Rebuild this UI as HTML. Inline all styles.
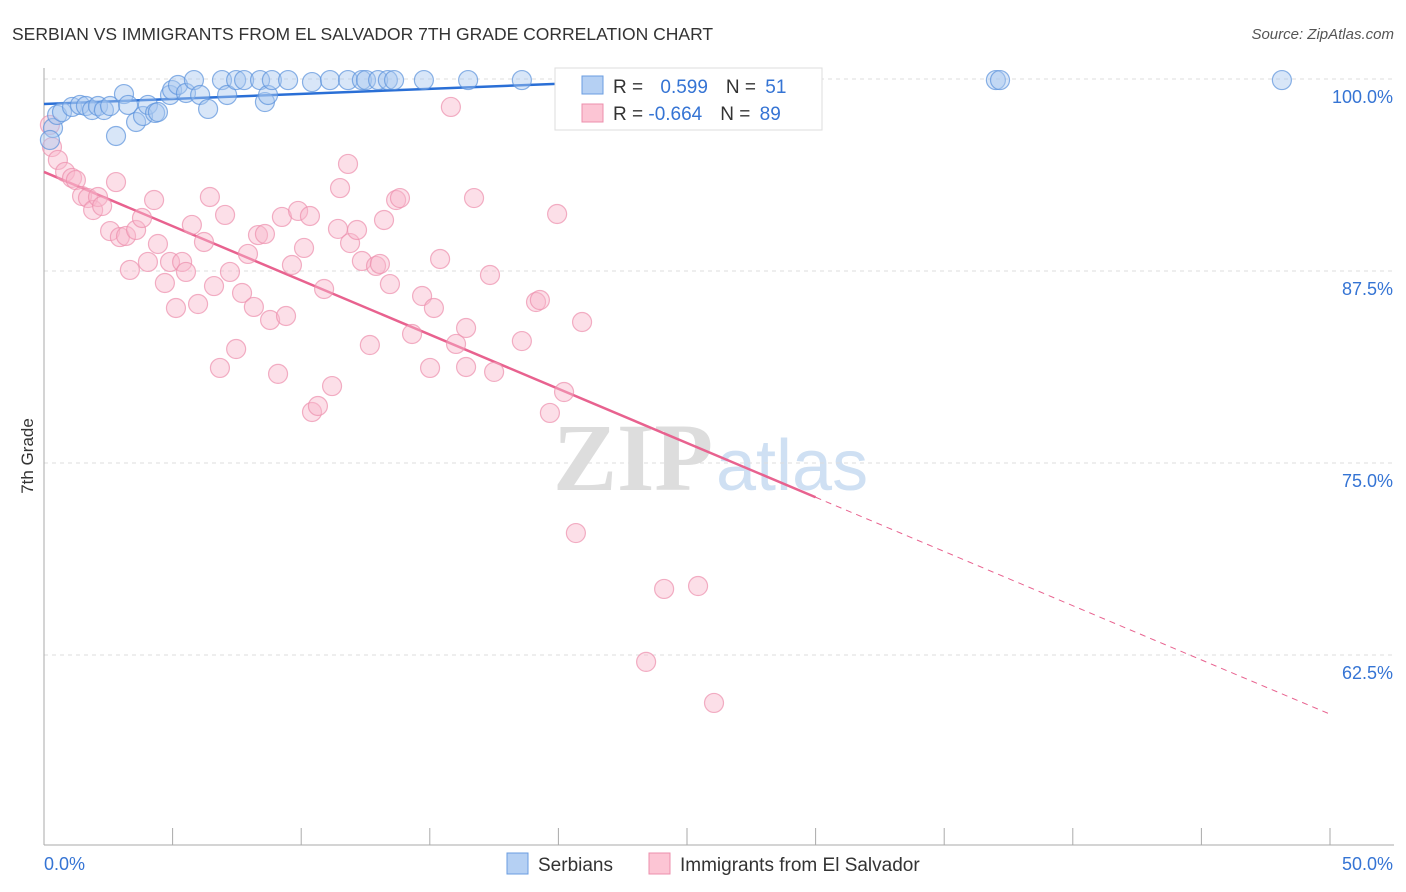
<!DOCTYPE html>
<html><head><meta charset="utf-8"><style>
body{margin:0;background:#fff;font-family:"Liberation Sans",sans-serif}
</style></head><body>
<svg id="chart" width="1406" height="892" xmlns="http://www.w3.org/2000/svg" style="display:block">
<text x="12" y="40" font-size="17.5" fill="#333">SERBIAN VS IMMIGRANTS FROM EL SALVADOR 7TH GRADE CORRELATION CHART</text>
<text x="1394" y="39" font-size="15" fill="#555" font-style="italic" text-anchor="end">Source: ZipAtlas.com</text>
<g>
<text x="553" y="490" font-size="96" font-family="Liberation Serif,serif" fill="#ddd" font-weight="bold">ZIP</text>
<text x="716" y="490" font-size="72" fill="#cfe0f3">atlas</text></g>
<g id="grid"></g><g id="axes"></g><g id="trend"></g><g id="pts"></g>
<text x="33" y="456" font-size="17" fill="#333" text-anchor="middle" transform="rotate(-90 33 456)">7th Grade</text>
<g>
<rect x="555" y="68" width="267" height="62" fill="#fff" stroke="#ddd"/>
<rect x="582" y="76" width="21" height="18" fill="#b5d0f3" stroke="#6a9de0"/>
<rect x="582" y="104" width="21" height="18" fill="#fcc5d4" stroke="#ec8fac"/>
<text x="613" y="93" font-size="19" fill="#333">R = <tspan fill="#3574d4" dx="12">0.599</tspan><tspan fill="#333" dx="18">N = </tspan><tspan fill="#3574d4" dx="4">51</tspan></text>
<text x="613" y="120" font-size="19" fill="#333">R = <tspan fill="#3574d4">-0.664</tspan><tspan fill="#333" dx="18">N = </tspan><tspan fill="#3574d4" dx="4">89</tspan></text>
</g>
<g>
<rect x="507" y="853" width="21" height="21" fill="#b5d0f3" stroke="#6a9de0"/>
<text x="538" y="871" font-size="19" fill="#333">Serbians</text>
<rect x="649" y="853" width="21" height="21" fill="#fcc5d4" stroke="#ec8fac"/>
<text x="680" y="871" font-size="19" fill="#333">Immigrants from El Salvador</text>
</g>
</svg>
<script>
const blueX=[0.35,0.51,0.70,1.09,1.40,1.63,1.87,2.10,2.33,2.57,2.80,3.11,3.27,3.58,3.85,4.04,4.32,4.43,4.90,4.98,5.21,5.52,5.83,6.07,6.38,6.92,7.12,7.47,7.78,8.40,8.59,8.71,8.86,9.49,10.42,11.12,11.82,12.36,12.52,12.99,13.37,13.61,14.77,16.49,18.58,20.53,26.05,37.01,37.17,48.13,0.23];
const blueY=[96.81,97.66,97.85,98.18,98.31,98.24,97.98,98.24,97.98,98.24,96.29,99.02,98.31,97.20,97.59,98.31,97.79,97.85,98.96,99.28,99.61,99.09,99.93,98.96,98.05,99.93,98.96,99.93,99.93,99.93,98.50,98.96,99.93,99.93,99.80,99.93,99.93,99.93,99.93,99.93,99.93,99.93,99.93,99.93,99.93,99.93,99.93,99.93,99.93,99.93,96.03];
const pinkX=[0.23,0.31,0.54,0.82,1.09,1.24,1.48,1.71,1.91,2.10,2.26,2.57,2.80,2.95,3.19,3.34,3.58,3.81,4.04,4.28,4.43,4.70,4.90,5.13,5.37,5.52,5.75,5.99,6.22,6.45,6.61,6.84,7.04,7.23,7.47,7.70,7.93,8.16,8.32,8.59,8.79,9.10,9.25,9.41,9.64,9.88,10.11,10.34,10.42,10.65,10.89,11.20,11.43,11.51,11.82,11.90,12.17,12.36,12.67,12.91,13.06,13.22,13.45,13.69,13.84,14.31,14.70,15.01,15.16,15.40,16.02,16.41,16.41,16.72,17.34,17.50,18.58,19.13,19.28,19.67,19.95,20.22,20.68,20.92,24.11,25.43,23.41,26.05,15.82];
const pinkY=[97.01,95.57,94.73,93.95,93.56,93.42,92.38,92.25,91.47,92.32,91.73,90.10,93.29,89.71,89.78,87.57,90.17,90.95,88.09,92.12,89.26,86.72,88.09,85.09,88.09,87.44,90.50,85.35,89.39,92.32,86.52,81.19,91.15,87.44,82.42,86.07,88.61,85.16,89.84,89.91,84.31,80.80,91.02,84.57,87.89,91.41,89.00,91.08,78.32,78.71,86.33,80.01,90.24,92.90,94.47,89.32,90.17,88.15,82.68,87.83,87.96,90.82,86.65,92.12,92.25,83.40,85.87,81.19,85.09,88.28,82.75,83.79,81.25,92.25,87.24,80.93,82.94,85.48,85.61,78.26,91.21,79.62,70.44,84.18,66.80,66.99,62.05,59.38,98.18];
const yTicks=[100,87.5,75,62.5];
const yTickLabels=["100.0%","87.5%","75.0%","62.5%"];
const blueFit=[98.37,0.066]; // intercept, slope
const pinkFit=[93.95,-0.706];
const NS="http://www.w3.org/2000/svg";
const X0=44,X1=1330,YT=79;
const sx=v=>X0+(v/50)*(X1-X0);
const sy=v=>YT+(100-v)/12.5*192;
function mk(t,a,p){const e=document.createElementNS(NS,t);for(const k in a)e.setAttribute(k,a[k]);document.getElementById(p).appendChild(e);return e;}
yTicks.forEach((v,i)=>{
 const l=mk('line',{x1:X0,x2:1394,y1:sy(v),y2:sy(v),stroke:'#ddd','stroke-dasharray':'4 4'},'grid');
 
 
 const t=mk('text',{x:1393,y:sy(v)+24,'font-size':18,fill:'#3574d4','text-anchor':'end'},'grid');
 t.textContent=yTickLabels[i];
 
 
});
mk('line',{x1:X0,x2:X0,y1:68,y2:845,stroke:'#aaa'},'axes');
mk('line',{x1:X0,x2:1394,y1:845,y2:845,stroke:'#aaa'},'axes');
for(let i=1;i<=10;i++){const l=mk('line',{x1:sx(i*5),x2:sx(i*5),y1:828,y2:845,stroke:'#aaa'},'axes');
 
 }
const xl=mk('text',{x:44,y:870,'font-size':18,fill:'#3574d4'},'axes');xl.textContent='0.0%';


const xr=mk('text',{x:1393,y:870,'font-size':18,fill:'#3574d4','text-anchor':'end'},'axes');xr.textContent='50.0%';


function pts(xs,ys,fill,stroke,name){xs.forEach((x,i)=>{const c=mk('circle',{cx:sx(x),cy:sy(ys[i]),r:9.5,fill:fill,'fill-opacity':0.45,stroke:stroke,'stroke-opacity':0.7,'stroke-width':1.2},'pts');
 
 });}
pts(pinkX,pinkY,'#f9b8cb','#ec8fac','point-el-salvador');
pts(blueX,blueY,'#a9c8f0','#5a91dc','point-serbian');
const bl=mk('line',{x1:sx(0),y1:sy(blueFit[0]),x2:sx(26.3),y2:sy(blueFit[0]+blueFit[1]*26.3),stroke:'#2a6fd6','stroke-width':2.5},'trend');


const pl=mk('line',{x1:sx(0),y1:sy(pinkFit[0]),x2:sx(30),y2:sy(pinkFit[0]+pinkFit[1]*30),stroke:'#e8628f','stroke-width':2.5},'trend');


const pd=mk('line',{x1:sx(30),y1:sy(pinkFit[0]+pinkFit[1]*30),x2:sx(50),y2:sy(pinkFit[0]+pinkFit[1]*50),stroke:'#e8628f','stroke-width':1,'stroke-dasharray':'6 5'},'trend');


</script>
</body></html>
